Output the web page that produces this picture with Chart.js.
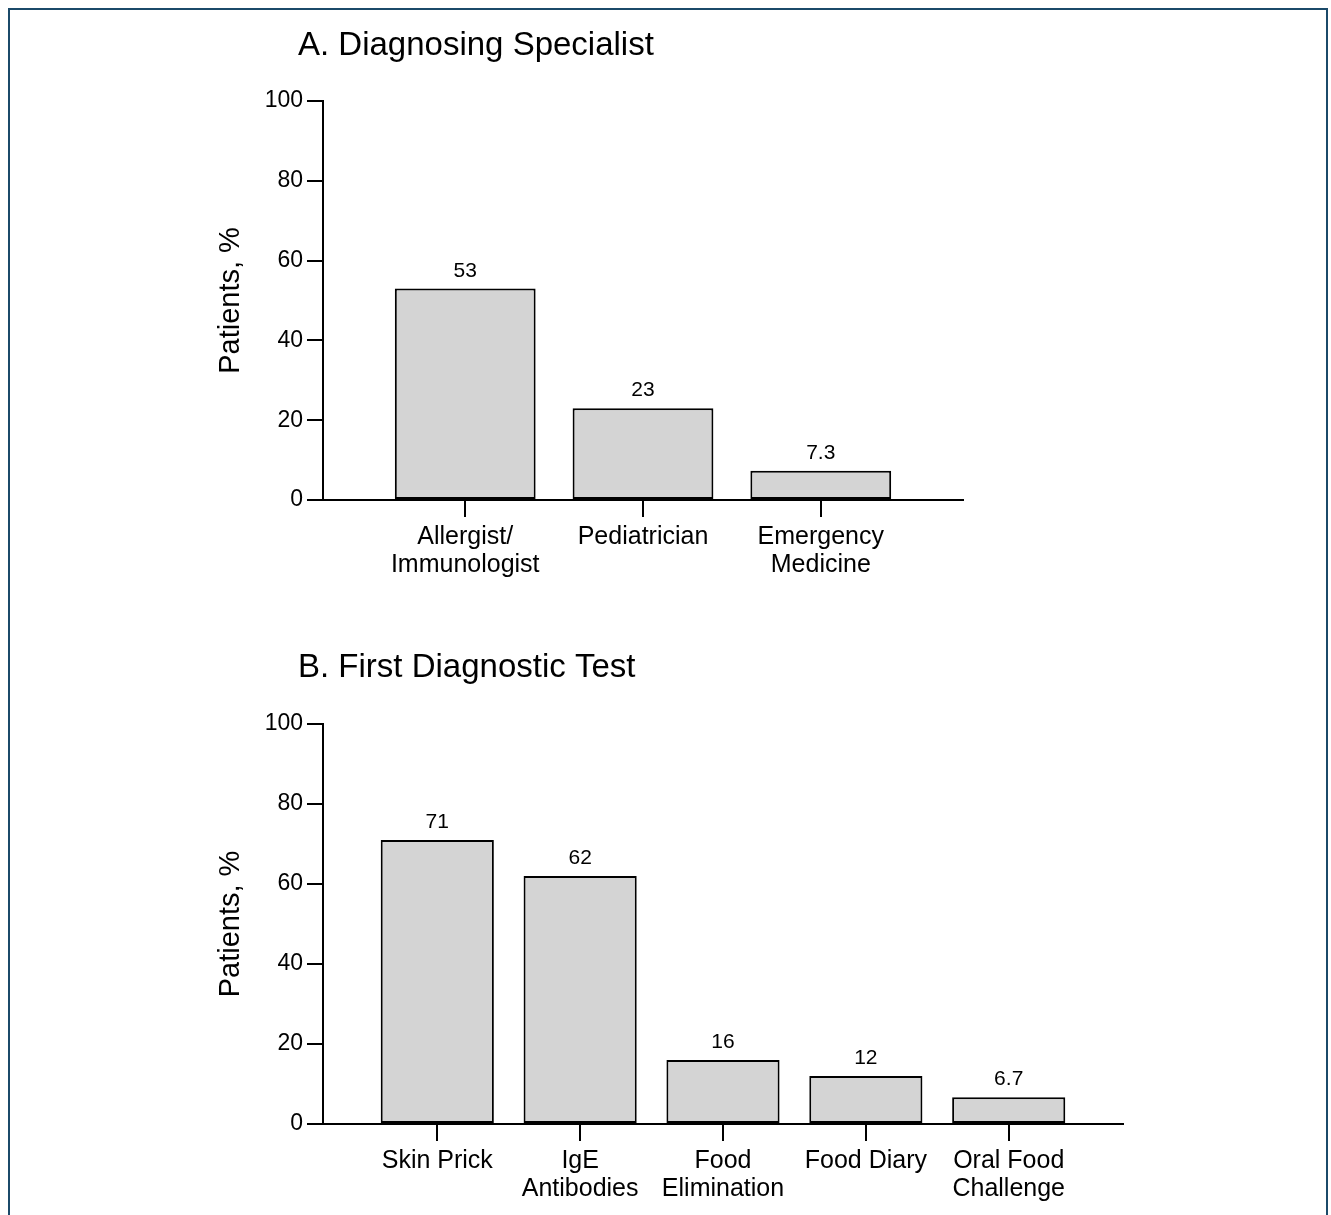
<!DOCTYPE html>
<html>
<head>
<meta charset="utf-8">
<title>Diagnosing Specialist and First Diagnostic Test</title>
<script src="https://cdn.jsdelivr.net/npm/chart.js@4.4.1/dist/chart.umd.min.js"></script>
<style>
  html, body { margin: 0; padding: 0; background: #fff; }
  body { width: 1331px; height: 1215px; position: relative; overflow: hidden; }
  #frame { position: absolute; left: 8px; top: 8px; width: 1316px; height: 1300px; border: 2px solid #1b4a69; }
  .panel { position: absolute; left: 0; width: 1331px; }
  #panelA { top: 0; height: 610px; }
  #panelB { top: 610px; height: 605px; }
</style>
</head>
<body>
<div id="frame"></div>
<div class="panel" id="panelA"><canvas id="chartA"></canvas></div>
<div class="panel" id="panelB"><canvas id="chartB"></canvas></div>
<script>
// Datos del panel A
const specialistLabels = [["Allergist/", "Immunologist"], ["Pediatrician"], ["Emergency", "Medicine"]];
const specialistValues = [53, 23, 7.3];
const specialistText = ["53", "23", "7.3"];

// Datos del panel B
const testLabels = [["Skin Prick"], ["IgE", "Antibodies"], ["Food", "Elimination"], ["Food Diary"], ["Oral Food", "Challenge"]];
const testValues = [71, 62, 16, 12, 6.7];
const testText = ["71", "62", "16", "12", "6.7"];

const yTicks = [0, 20, 40, 60, 80, 100];
const FONT = '"Liberation Sans", Arial, Helvetica, sans-serif';

// Etiquetas de valor encima de cada barra
const valueLabels = {
    id: "valueLabels",
    afterDatasetsDraw(chart, args, opts) {
        const ctx = chart.ctx;
        const meta = chart.getDatasetMeta(0);
        ctx.save();
        ctx.font = "21px " + FONT;
        ctx.fillStyle = "#000";
        ctx.textAlign = "center";
        ctx.textBaseline = "alphabetic";
        meta.data.forEach((bar, i) => {
            ctx.fillText(opts.texts[i], bar.x, bar.y - 12);
        });
        ctx.restore();
    }
};

// Título del panel, a la izquierda
const panelTitle = {
    id: "panelTitle",
    afterDraw(chart, args, opts) {
        const ctx = chart.ctx;
        ctx.save();
        ctx.font = "33px " + FONT;
        ctx.fillStyle = "#000";
        ctx.textAlign = "left";
        ctx.textBaseline = "alphabetic";
        ctx.fillText(opts.text, opts.x, opts.y);
        ctx.restore();
    }
};

function makeChart(id, labels, values, texts, title, titleY, xMax, padRight, padTop, xHeight) {
    const ctx = document.getElementById(id).getContext("2d");
    return new Chart(ctx, {
        type: "bar",
        data: {
            datasets: [{
                data: values.map((v, i) => ({ x: i, y: v })),
                backgroundColor: "#d4d4d4",
                borderColor: "#000",
                borderWidth: 2,
                borderSkipped: false,
                categoryPercentage: 0.8,
                barPercentage: 0.99
            }]
        },
        options: {
            responsive: true,
            maintainAspectRatio: false,
            animation: false,
            layout: { padding: { left: 200, right: padRight, top: padTop, bottom: 0 } },
            plugins: {
                legend: { display: false },
                tooltip: { enabled: false },
                valueLabels: { texts: texts },
                panelTitle: { text: title, x: 298, y: titleY }
            },
            scales: {
                x: {
                    type: "linear",
                    offset: false,
                    min: -0.8,
                    max: xMax,
                    afterBuildTicks: (scale) => {
                        scale.ticks = labels.map((_, i) => ({ value: i }));
                    },
                    afterFit: (scale) => { scale.height = xHeight; },
                    ticks: {
                        autoSkip: false,
                        maxRotation: 0,
                        padding: 6,
                        color: "#000",
                        font: { family: FONT, size: 25, lineHeight: 1.12 },
                        callback: (v) => labels[v]
                    },
                    grid: { offset: false, drawOnChartArea: false, drawTicks: true, tickLength: 17, color: "#000", lineWidth: 2 },
                    border: { display: true, color: "#000", width: 2 }
                },
                y: {
                    min: 0,
                    max: 100,
                    afterBuildTicks: (scale) => {
                        scale.ticks = yTicks.map((v) => ({ value: v }));
                    },
                    afterFit: (scale) => { scale.width = 123; },
                    ticks: { padding: 4, color: "#000", font: { family: FONT, size: 23 } },
                    grid: { drawOnChartArea: false, drawTicks: true, tickLength: 16, color: "#000", lineWidth: 2 },
                    border: { display: true, color: "#000", width: 2 },
                    title: {
                        display: true,
                        text: "Patients, %",
                        color: "#000",
                        padding: { top: 14, bottom: 0 },
                        font: { family: FONT, size: 29, lineHeight: 1.2 }
                    }
                }
            }
        },
        plugins: [valueLabels, panelTitle]
    });
}

makeChart("chartA", specialistLabels, specialistValues, specialistText, "A. Diagnosing Specialist", 55, 2.8, 368, 101, 110);
makeChart("chartB", testLabels, testValues, testText, "B. First Diagnostic Test", 67, 4.8, 208, 114, 91);
</script>
</body>
</html>
